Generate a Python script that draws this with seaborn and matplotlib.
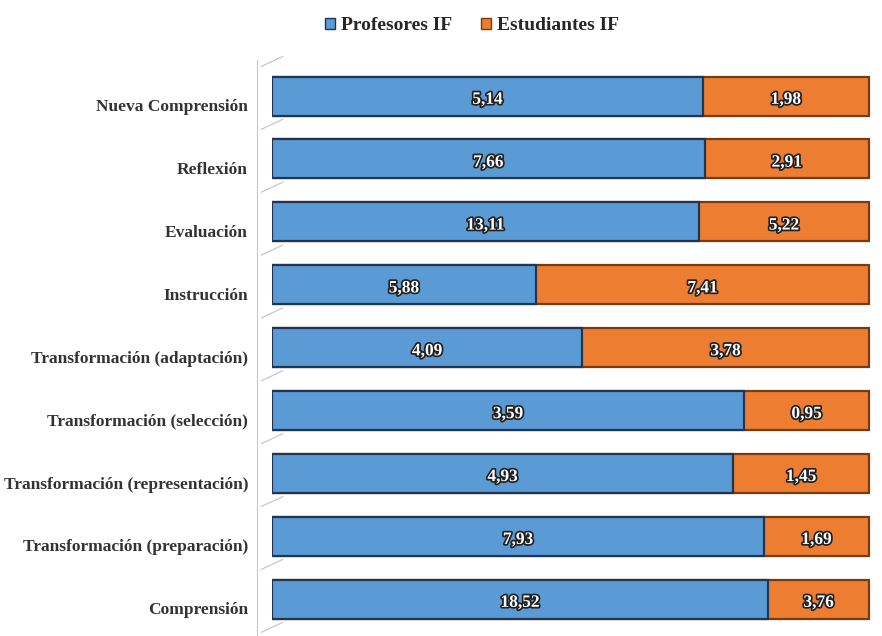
import numpy as np
import pandas as pd
import matplotlib
matplotlib.use("Agg")
import matplotlib.pyplot as plt
import matplotlib.patheffects as pe
import matplotlib.transforms as mtransforms
from matplotlib.patches import Patch
import seaborn as sns

# datos
categorias = ["Nueva Comprensión", "Reflexión", "Evaluación", "Instrucción",
              "Transformación (adaptación)", "Transformación (selección)",
              "Transformación (representación)", "Transformación (preparación)",
              "Comprensión"]
profesores = [5.14, 7.66, 13.11, 5.88, 4.09, 3.59, 4.93, 7.93, 18.52]
estudiantes = [1.98, 2.91, 5.22, 7.41, 3.78, 0.95, 1.45, 1.69, 3.76]

df = pd.DataFrame({"Categoria": categorias, "Profesores IF": profesores,
                   "Estudiantes IF": estudiantes})
df["total"] = df["Profesores IF"] + df["Estudiantes IF"]
df["p_prof"] = df["Profesores IF"] / df["total"]
df["p_tot"] = 1.0

sns.set_style("white")
plt.rcParams['font.family'] = ['Liberation Serif', 'DejaVu Serif']

azul = "#5B9BD5"
naranja = "#ED7D31"

fig = plt.figure(figsize=(8.82, 6.36), dpi=100)
ax = fig.add_axes([272 / 882, 0.0, 600 / 882, 1 - 60 / 636])

sns.barplot(data=df, y="Categoria", x="p_tot", color=naranja, orient="h",
            width=0.62, edgecolor="#7a3a10", linewidth=1.6, saturation=1, ax=ax)
sns.barplot(data=df, y="Categoria", x="p_prof", color=azul, orient="h",
            width=0.62, edgecolor="#1f3553", linewidth=1.6, saturation=1, ax=ax)

efecto = [pe.withStroke(linewidth=2.5, foreground="#222222")]
trans = mtransforms.blended_transform_factory(ax.transAxes, ax.transData)

# lineas diagonales de la pared (efecto 3D)
for i in range(-1, len(categorias)):
    ax.plot([-0.018, 0.018], [i + 0.53, i + 0.37], transform=trans,
            color="#c8c8c8", lw=0.9, clip_on=False)

for i, row in df.iterrows():
    ax.text(row["p_prof"] / 2, i + 0.06, f"{row['Profesores IF']:.2f}".replace(".", ","),
            ha="center", va="center", color="white", fontsize=12.5,
            fontweight="bold", path_effects=efecto)
    ax.text((row["p_prof"] + 1) / 2, i + 0.06, f"{row['Estudiantes IF']:.2f}".replace(".", ","),
            ha="center", va="center", color="white", fontsize=12.5,
            fontweight="bold", path_effects=efecto)
    # etiqueta de categoria
    ax.text(-0.04, i + 0.18, row["Categoria"], transform=trans, ha="right", va="center",
            fontsize=12.5, fontweight="bold", color="#333333")

ax.set_xlim(0, 1.005)
ax.set_ylim(8.588, -0.573)
ax.set_xlabel("")
ax.set_ylabel("")
ax.set_xticks([])
ax.set_yticks([])
for s in ["top", "right", "bottom"]:
    ax.spines[s].set_visible(False)
ax.spines["left"].set_color("#c8c8c8")
ax.spines["left"].set_position(("outward", 11))

handles = [Patch(facecolor=azul, edgecolor="#1f3553", label="Profesores IF"),
           Patch(facecolor=naranja, edgecolor="#7a3a10", label="Estudiantes IF")]
fig.legend(handles=handles, loc="upper center", bbox_to_anchor=(0.535, 1.0),
           ncol=2, frameon=False, prop={"size": 14, "weight": "bold"},
           handlelength=0.5, handleheight=0.5, handletextpad=0.3, columnspacing=1.5)

fig.savefig("out.png", dpi=100)
